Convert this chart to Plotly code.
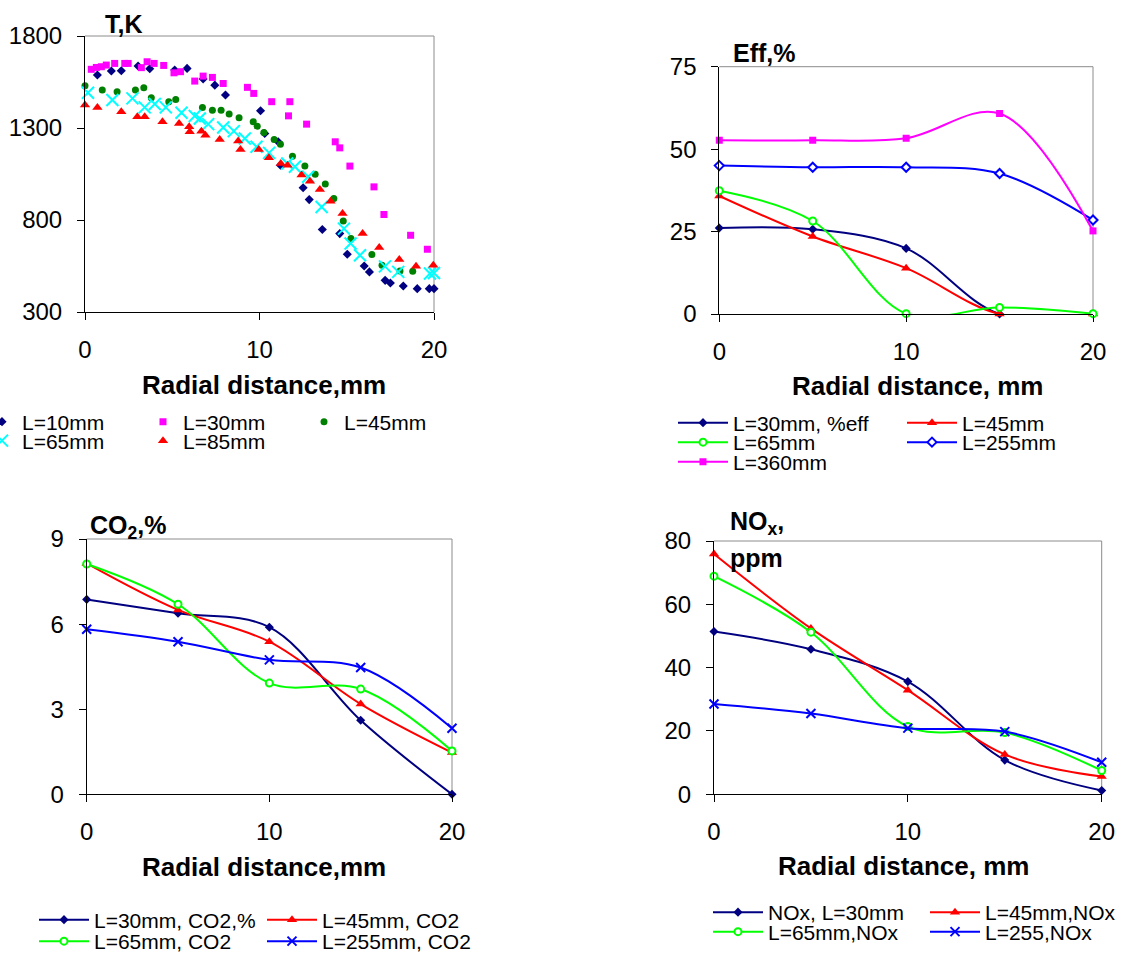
import plotly.graph_objects as go

W, H = 1125, 955
FONT = "Arial, 'Liberation Sans', sans-serif"

# ---------------- Data: temperature profiles (T, K) ----------------
T10_x = [0.71, 1.51, 2.08, 3.04, 3.71, 5.14, 5.85, 6.77, 7.44, 8.05, 10.06, 10.3, 11.07, 11.2,
         12.5, 12.85, 13.6, 14.6, 15.03, 16.0, 16.3, 17.2, 17.5, 18.24, 19.04, 19.73, 20.0]
T10_y = [1588, 1610, 1611, 1637, 1622, 1615, 1624, 1566, 1533, 1479, 1394, 1270, 1225, 1098,
         975, 911, 748, 726, 614, 550, 518, 472, 458, 441, 427, 427, 427]

T30_x = [0.36, 0.65, 0.94, 1.22, 1.70, 2.28, 2.47, 3.23, 3.56, 3.96, 4.51, 5.1, 5.47, 6.29, 6.77,
         7.3, 7.92, 9.31, 9.67, 10.7, 11.74, 11.66, 12.7, 14.34, 14.6, 15.18, 16.56, 17.13,
         18.66, 19.62]
T30_y = [1619, 1629, 1633, 1642, 1651, 1651, 1651, 1628, 1660, 1651, 1640, 1600, 1606, 1555, 1582,
         1575, 1542, 1521, 1488, 1443, 1443, 1366, 1321, 1225, 1192, 1093, 980, 830,
         717, 641]

T45_x = [0.0, 0.99, 1.84, 2.89, 3.37, 3.8, 4.8, 5.2, 6.73, 7.3, 7.8, 8.26, 8.83, 9.64, 9.87,
         10.25, 10.84, 11.2, 11.89, 12.6, 13.19, 13.77, 14.26, 14.8, 15.24, 16.44, 17.02,
         18.05, 18.78]
T45_y = [1530, 1506, 1497, 1506, 1519, 1464, 1443, 1455, 1412, 1397, 1397, 1376, 1356, 1334, 1310,
         1276, 1238, 1212, 1147, 1093, 1049, 995, 917, 795, 699, 612, 554,
         523, 521]

T65_x = [0.17, 1.57, 2.72, 3.42, 4.0, 4.63, 5.53, 6.29, 6.58, 7.06, 7.92, 8.53, 9.16, 9.83,
         10.55, 11.59, 12.03, 12.79, 13.56, 14.84, 15.22, 15.76, 17.19, 17.95, 19.77, 20.0]
T65_y = [1492, 1452, 1461, 1412, 1430, 1412, 1383, 1365, 1352, 1321, 1303, 1283, 1243, 1198,
         1165, 1107, 1089, 1035, 871, 753, 672, 608, 548, 518, 509, 512]

T85_x = [0.0, 0.71, 2.08, 3.0, 3.42, 4.44, 5.39, 5.97, 6.0, 6.67, 6.9, 7.72, 8.78, 8.91, 9.96,
         10.54, 11.22, 11.61, 12.41, 12.89, 13.46, 14.07, 14.76, 15.91, 16.86, 18.01, 18.97,
         19.96]
T85_y = [1425, 1412, 1388, 1361, 1361, 1334, 1325, 1307, 1279, 1283, 1261, 1238, 1229, 1183, 1183,
         1138, 1107, 1098, 1044, 1011, 966, 902, 835, 726, 650, 585, 548,
         554]

# ---------------- Data: line charts ----------------
R = [0, 5, 10, 15, 20]

EFF_30 = [26.1, 25.7, 19.9, 0.0, 0.0]
EFF_45 = [35.8, 23.5, 13.9, 0.0, 0.0]
EFF_65 = [37.4, 28.2, 0.1, 2.0, 0.1]
EFF_255 = [45.0, 44.5, 44.5, 42.6, 28.5]
EFF_360 = [52.7, 52.7, 53.3, 60.8, 25.2]

CO2_30 = [6.87, 6.38, 5.89, 2.61, 0.0]
CO2_45 = [8.14, 6.50, 5.38, 3.18, 1.47]
CO2_65 = [8.12, 6.70, 3.92, 3.71, 1.53]
CO2_255 = [5.82, 5.38, 4.74, 4.47, 2.33]

NOX_30 = [51.4, 45.8, 35.6, 10.8, 1.2]
NOX_45 = [75.9, 52.4, 32.9, 12.6, 5.6]
NOX_65 = [68.9, 51.2, 21.4, 19.5, 7.5]
NOX_255 = [28.5, 25.5, 20.9, 19.8, 10.1]

NAVY, MAG, GREEN, CYAN, RED, LIME, BLUE = ("#000080", "#FF00FF", "#008000", "#00FFFF",
                                           "#FF0000", "#00FF00", "#0000FF")

fig = go.Figure()

# ---- top-left scatter ----
def sc(x, y, name, legend, symbol, color, size, lw=0):
    fig.add_trace(go.Scatter(
        x=x, y=y, name=name, mode="markers", legend=legend, xaxis="x", yaxis="y",
        cliponaxis=False,
        marker=dict(symbol=symbol, color=color, size=size,
                    line=dict(color=color, width=lw))))

sc(T10_x, T10_y, "L=10mm", "legend", "diamond", NAVY, 7)
sc(T30_x, T30_y, "L=30mm", "legend", "square", MAG, 7)
sc(T45_x, T45_y, "L=45mm", "legend", "circle", GREEN, 7)
sc(T65_x, T65_y, "L=65mm", "legend2", "x-thin-open", CYAN, 12, 2)
sc(T85_x, T85_y, "L=85mm", "legend2", "triangle-up", RED, 9)


def ln(y, name, legend, xa, ya, symbol, color, size, fill=None, lw=0):
    fig.add_trace(go.Scatter(
        x=R, y=y, name=name, mode="lines+markers", legend=legend, xaxis=xa, yaxis=ya,
        cliponaxis=False,
        line=dict(color=color, width=2, shape="spline", smoothing=1.0),
        marker=dict(symbol=symbol, size=size, color=fill if fill else color,
                    line=dict(color=color, width=lw))))

# ---- top-right Eff ----
ln(EFF_30, "L=30mm, %eff", "legend3", "x2", "y2", "diamond", NAVY, 7)
ln(EFF_45, "L=45mm", "legend3", "x2", "y2", "triangle-up", RED, 9)
ln(EFF_65, "L=65mm", "legend4", "x2", "y2", "circle", LIME, 7, "white", 2)
ln(EFF_255, "L=255mm", "legend4", "x2", "y2", "diamond", BLUE, 7, "white", 2)
ln(EFF_360, "L=360mm", "legend5", "x2", "y2", "square", MAG, 7)

# ---- bottom-left CO2 ----
ln(CO2_30, "L=30mm, CO2,%", "legend6", "x3", "y3", "diamond", NAVY, 7)
ln(CO2_45, "L=45mm, CO2", "legend6", "x3", "y3", "triangle-up", RED, 9)
ln(CO2_65, "L=65mm, CO2", "legend7", "x3", "y3", "circle", LIME, 7, "white", 2)
ln(CO2_255, "L=255mm, CO2", "legend7", "x3", "y3", "x-thin-open", BLUE, 9, None, 2)

# ---- bottom-right NOx ----
ln(NOX_30, "NOx, L=30mm", "legend8", "x4", "y4", "diamond", NAVY, 7)
ln(NOX_45, "L=45mm,NOx", "legend8", "x4", "y4", "triangle-up", RED, 9)
ln(NOX_65, "L=65mm,NOx", "legend9", "x4", "y4", "circle", LIME, 7, "white", 2)
ln(NOX_255, "L=255,NOx", "legend9", "x4", "y4", "x-thin-open", BLUE, 9, None, 2)

# ---------------- Layout ----------------
def dx(px0, px1):
    return [px0 / W, px1 / W]

def dy(top, bottom):
    return [1 - bottom / H, 1 - top / H]

AX = dict(showline=True, linecolor="black", linewidth=1, ticks="outside", ticklen=7,
          tickcolor="black", tickwidth=1, showgrid=False, zeroline=False, mirror=False,
          tickfont=dict(family=FONT, size=24, color="black"), fixedrange=True)

def xax(domain, anchor):
    return dict(AX, domain=domain, anchor=anchor, range=[0, 20], tickvals=[0, 10, 20],
                ticklabelstandoff=9)

def yax(domain, anchor, rng, vals):
    return dict(AX, domain=domain, anchor=anchor, range=rng, tickvals=vals,
                ticklabelstandoff=10)

PLOTS = {
    "1": (85, 434, 36, 312),
    "2": (719.3, 1093, 66.7, 314),
    "3": (86.7, 452, 539, 794.3),
    "4": (714, 1101.7, 541, 794.3),
}

def leg(item_x, cy, entrywidth, itemwidth):
    return dict(x=item_x / W, xanchor="left", y=1 - cy / H, yanchor="middle",
                orientation="h", entrywidth=entrywidth, entrywidthmode="pixels",
                itemwidth=itemwidth, bgcolor="rgba(0,0,0,0)", borderwidth=0,
                font=dict(family=FONT, size=21, color="black"), traceorder="normal")

shapes = []
for k in ["", "2", "3", "4"]:
    shapes.append(dict(type="line", xref=f"x{k} domain", yref=f"y{k} domain",
                       x0=0, x1=1, y0=1, y1=1, line=dict(color="#8c8c8c", width=1),
                       layer="below"))
    shapes.append(dict(type="line", xref=f"x{k} domain", yref=f"y{k} domain",
                       x0=1, x1=1, y0=0, y1=1, line=dict(color="#8c8c8c", width=1),
                       layer="below"))

def ann(text, xpx, ypx, size, xanchor="center"):
    return dict(text=text, x=xpx / W, y=1 - ypx / H, xref="paper", yref="paper",
                xanchor=xanchor, yanchor="middle", showarrow=False,
                font=dict(family=FONT, size=size, color="black"))

annotations = [
    ann("<b>Radial distance,mm</b>", 264, 385, 26),
    ann("<b>Radial distance, mm</b>", 917, 386, 26),
    ann("<b>Radial distance,mm</b>", 264, 867, 26),
    ann("<b>Radial distance, mm</b>", 903, 866, 26),
    ann("<b>T,K</b>", 103, 24, 25, "left"),
    ann("<b>Eff,%</b>", 731, 53, 25, "left"),
    ann("<b>CO<sub>2</sub>,%</b>", 88, 527, 25, "left"),
    ann("<b>NO<sub>x</sub>,</b>", 728, 523, 25, "left"),
    ann("<b>ppm</b>", 728, 558, 25, "left"),
]

p = PLOTS
fig.update_layout(
    width=W, height=H,
    margin=dict(l=0, r=0, t=0, b=0, autoexpand=False),
    paper_bgcolor="white", plot_bgcolor="rgba(0,0,0,0)",
    font=dict(family=FONT, color="black"),
    xaxis=xax(dx(p["1"][0], p["1"][1]), "y"),
    yaxis=yax(dy(p["1"][2], p["1"][3]), "x", [300, 1800], [300, 800, 1300, 1800]),
    xaxis2=xax(dx(p["2"][0], p["2"][1]), "y2"),
    yaxis2=yax(dy(p["2"][2], p["2"][3]), "x2", [0, 75], [0, 25, 50, 75]),
    xaxis3=xax(dx(p["3"][0], p["3"][1]), "y3"),
    yaxis3=yax(dy(p["3"][2], p["3"][3]), "x3", [0, 9], [0, 3, 6, 9]),
    xaxis4=xax(dx(p["4"][0], p["4"][1]), "y4"),
    yaxis4=yax(dy(p["4"][2], p["4"][3]), "x4", [0, 80], [0, 20, 40, 60, 80]),
    legend=leg(-18, 422, 116, 30),
    legend2=leg(-18, 441, 116, 30),
    legend3=leg(673, 423, 164, 50),
    legend4=leg(673, 442.5, 164, 50),
    legend5=leg(673, 462, 164, 50),
    legend6=leg(34, 920, 163, 50),
    legend7=leg(34, 941.5, 163, 50),
    legend8=leg(708, 912.5, 152, 50),
    legend9=leg(708, 932, 152, 50),
    shapes=shapes,
    annotations=annotations,
    showlegend=True,
)

fig.write_html("out.html", config={"displayModeBar": False},
               post_script="document.body.style.margin='0px';")
